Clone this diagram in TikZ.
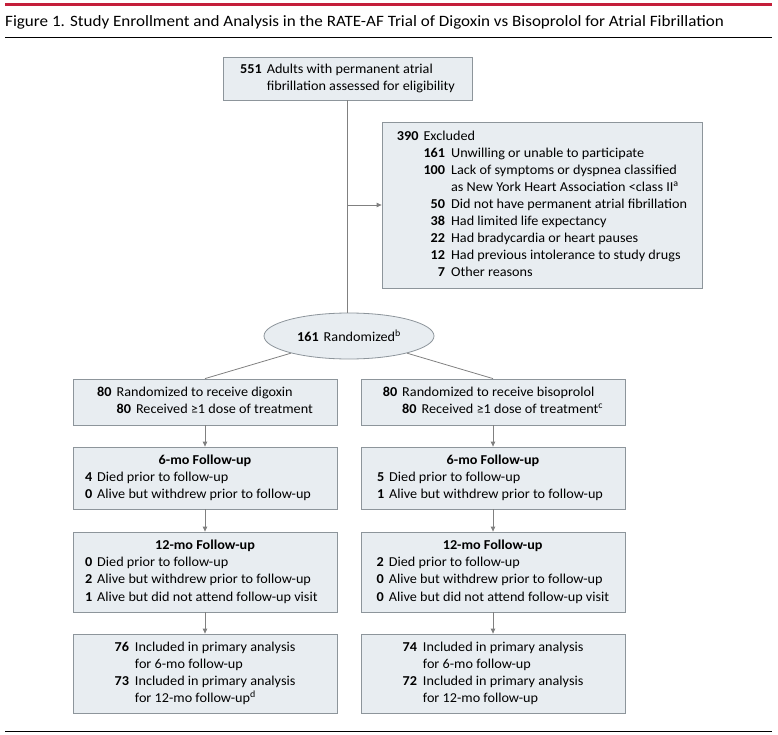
\documentclass[tikz,border=0pt]{standalone}
\usepackage{fontspec}
\setmainfont{Carlito}[FakeStretch=1.045]
\newfontfamily\titlefont{Carlito}[FakeStretch=1.08]
\usetikzlibrary{shapes.geometric,arrows.meta}
\definecolor{boxfill}{HTML}{E8EDF1}
\definecolor{boxline}{HTML}{8D959B}
\definecolor{linkgray}{HTML}{808080}
\definecolor{jamared}{HTML}{C41E3A}
\newcommand{\nm}[1]{\textbf{#1}}
\newcommand{\hd}[2]{\multicolumn{2}{@{}l@{}}{\makebox[#1]{\textbf{#2}}}}
\tikzset{
  box/.style={draw=boxline, fill=boxfill, line width=0.8pt, inner sep=0pt, minimum width=264pt},
  link/.style={draw=linkgray, line width=0.8pt},
  arr/.style={link, -{Triangle[length=5pt,width=4.5pt]}},
  rule/.style={line width=0.9pt},
}
\begin{document}
\begin{tikzpicture}[x=1pt,y=-1pt,font=\fontsize{13.6}{17.1}\selectfont]
	\useasboundingbox (0,0) rectangle (778,735);
	% title and rules
	\draw[jamared, line width=3pt] (5,5) -- (772,5);
	\node[anchor=base west, inner sep=0pt, font=\titlefont\fontsize{15.8}{18}\selectfont] (title) at (5,27) {Figure 1. Study Enrollment and Analysis in the RATE-AF Trial of Digoxin vs Bisoprolol for Atrial Fibrillation};
	\draw[rule] (5,37) -- (772,37);
	\draw[rule] (5,731) -- (772,731);
	% enrollment
	\node[box, minimum width=249pt, minimum height=43pt] (top) at (347.5,78.5) {\begin{tabular}{@{}r@{\hspace{5pt}}l@{}}
		\nm{551} & Adults with permanent atrial\\
		& fibrillation assessed for eligibility
	\end{tabular}};
	\node[box, minimum width=320pt, minimum height=166pt] (excl) at (542,205) {\begin{tabular}{@{}r@{\hspace{5pt}}r@{\hspace{6pt}}l@{}}
		\nm{390} & \multicolumn{2}{@{}l@{}}{Excluded}\\
		& \nm{161} & Unwilling or unable to participate\\
		& \nm{100} & Lack of symptoms or dyspnea classified\\
		& & as New York Heart Association <class II\textsuperscript{a}\\
		& \nm{50} & Did not have permanent atrial fibrillation\\
		& \nm{38} & Had limited life expectancy\\
		& \nm{22} & Had bradycardia or heart pauses\\
		& \nm{12} & Had previous intolerance to study drugs\\
		& \nm{7} & Other reasons
	\end{tabular}};
	\node[ellipse, draw=boxline, fill=boxfill, line width=0.8pt, inner sep=0pt, minimum width=170pt, minimum height=46pt] (rand) at (349,336) {\nm{161}\hspace{5pt}Randomized\textsuperscript{b}};
	% digoxin arm
	\node[box, minimum height=46pt] (dig) at (205,402) {\begin{tabular}{@{}r@{\hspace{5pt}}r@{\hspace{5pt}}l@{}}
		\nm{80} & \multicolumn{2}{@{}l@{}}{Randomized to receive digoxin}\\
		& \nm{80} & Received ≥1 dose of treatment
	\end{tabular}};
	\node[box, minimum height=62pt] (dsix) at (205,478) {\begin{tabular}{@{}r@{\hspace{5pt}}l@{}}
		\hd{240pt}{6-mo Follow-up}\\
		\nm{4} & Died prior to follow-up\\
		\nm{0} & Alive but withdrew prior to follow-up
	\end{tabular}};
	\node[box, minimum height=80pt] (dtwelve) at (205,572) {\begin{tabular}{@{}r@{\hspace{5pt}}l@{}}
		\hd{240pt}{12-mo Follow-up}\\
		\nm{0} & Died prior to follow-up\\
		\nm{2} & Alive but withdrew prior to follow-up\\
		\nm{1} & Alive but did not attend follow-up visit
	\end{tabular}};
	\node[box, minimum height=79pt] (dan) at (205,673.5) {\begin{tabular}{@{}r@{\hspace{6pt}}l@{}}
		\nm{76} & Included in primary analysis\\
		& for 6-mo follow-up\\
		\nm{73} & Included in primary analysis\\
		& for 12-mo follow-up\textsuperscript{d}
	\end{tabular}};
	% bisoprolol arm
	\node[box, minimum height=46pt] (bis) at (493,402) {\begin{tabular}{@{}r@{\hspace{5pt}}r@{\hspace{5pt}}l@{}}
		\nm{80} & \multicolumn{2}{@{}l@{}}{Randomized to receive bisoprolol}\\
		& \nm{80} & Received ≥1 dose of treatment\textsuperscript{c}
	\end{tabular}};
	\node[box, minimum height=62pt] (bsix) at (493,478) {\begin{tabular}{@{}r@{\hspace{5pt}}l@{}}
		\hd{232pt}{6-mo Follow-up}\\
		\nm{5} & Died prior to follow-up\\
		\nm{1} & Alive but withdrew prior to follow-up
	\end{tabular}};
	\node[box, minimum height=80pt] (btwelve) at (493,572) {\begin{tabular}{@{}r@{\hspace{5pt}}l@{}}
		\hd{232pt}{12-mo Follow-up}\\
		\nm{2} & Died prior to follow-up\\
		\nm{0} & Alive but withdrew prior to follow-up\\
		\nm{0} & Alive but did not attend follow-up visit
	\end{tabular}};
	\node[box, minimum height=79pt] (ban) at (493,673.5) {\begin{tabular}{@{}r@{\hspace{6pt}}l@{}}
		\nm{74} & Included in primary analysis\\
		& for 6-mo follow-up\\
		\nm{72} & Included in primary analysis\\
		& for 12-mo follow-up
	\end{tabular}};
	% connectors
	\draw[link] (top.south) -- (top.south |- rand.north);
	\draw[arr] (top.south |- excl.west) -- (excl.west);
	\draw[link] (rand) -- (dig.north);
	\draw[link] (rand) -- (bis.north);
	\draw[arr] (dig.south) -- (dsix.north);
	\draw[arr] (dsix.south) -- (dtwelve.north);
	\draw[arr] (dtwelve.south) -- (dan.north);
	\draw[arr] (bis.south) -- (bsix.north);
	\draw[arr] (bsix.south) -- (btwelve.north);
	\draw[arr] (btwelve.south) -- (ban.north);
\end{tikzpicture}
\end{document}
